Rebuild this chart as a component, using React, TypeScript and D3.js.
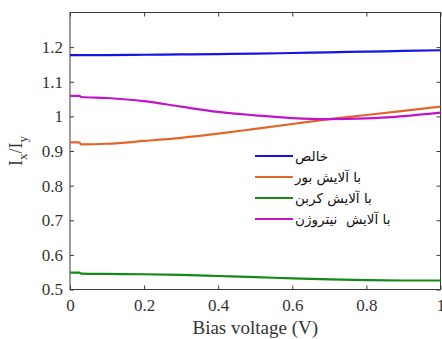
import React, { useEffect, useRef } from "react";
import * as d3 from "d3";

// bias voltage samples (V)
const voltages = [0, 0.025, 0.03, 0.1, 0.2, 0.3, 0.4, 0.5, 0.6, 0.7, 0.8, 0.9, 1.0];

// Ix/Iy ratio for each structure
const pure = [1.177, 1.177, 1.177, 1.177, 1.178, 1.179, 1.18, 1.181, 1.183, 1.185, 1.187, 1.189, 1.191];
const boron = [0.925, 0.925, 0.919, 0.921, 0.929, 0.938, 0.95, 0.964, 0.978, 0.992, 1.004, 1.016, 1.028];
const carbon = [0.549, 0.549, 0.546, 0.545, 0.544, 0.542, 0.539, 0.536, 0.532, 0.529, 0.527, 0.526, 0.526];
const nitrogen = [1.059, 1.059, 1.056, 1.053, 1.044, 1.028, 1.013, 1.003, 0.995, 0.992, 0.994, 1.001, 1.011];

const seriesNames = ["خالص", "با آلایش بور", "با آلایش کربن", "با آلایش  نیتروژن"];
const seriesColors = ["#1414e6", "#e2652a", "#138a13", "#c014c8"];

const xTicks = [0, 0.2, 0.4, 0.6, 0.8, 1];
const yTicks = [0.5, 0.6, 0.7, 0.8, 0.9, 1, 1.1, 1.2];

const App = () => {
  const svgRef = useRef<SVGSVGElement>(null);

  useEffect(() => {
    const svg = d3.select(svgRef.current);
    svg.selectAll("*").remove();

    const left = 70;
    const right = 440.5;
    const top = 12.5;
    const bottom = 289.5;

    const x = d3.scaleLinear().domain([0, 1]).range([left, right]);
    const y = d3.scaleLinear().domain([0.5, 1.3]).range([bottom, top]);

    const axisColor = "#3a3a3a";
    const serif = "'Liberation Serif', 'Times New Roman', serif";

    // box
    svg
      .append("rect")
      .attr("x", left)
      .attr("y", top)
      .attr("width", right - left)
      .attr("height", bottom - top)
      .attr("fill", "none")
      .attr("stroke", axisColor)
      .attr("stroke-width", 1);

    // x ticks (bottom + top, inward)
    const xAxis = svg
      .append("g")
      .attr("transform", `translate(0,${bottom})`)
      .call(d3.axisBottom(x).tickValues(xTicks).tickSizeInner(-4).tickSizeOuter(0).tickPadding(9).tickFormat(d3.format("")));
    xAxis.select(".domain").remove();
    xAxis.selectAll("line").attr("stroke", axisColor);
    xAxis.selectAll("text").attr("font-family", serif).attr("font-size", 17).attr("fill", "#333");

    svg
      .append("g")
      .attr("transform", `translate(0,${top})`)
      .call(d3.axisTop(x).tickValues(xTicks).tickSizeInner(-4).tickSizeOuter(0).tickFormat(() => ""))
      .call((g) => g.select(".domain").remove())
      .selectAll("line")
      .attr("stroke", axisColor);

    // y ticks (left + right, inward)
    const yAxis = svg
      .append("g")
      .attr("transform", `translate(${left},0)`)
      .call(d3.axisLeft(y).tickValues(yTicks).tickSizeInner(-4).tickSizeOuter(0).tickPadding(7).tickFormat(d3.format("")));
    yAxis.select(".domain").remove();
    yAxis.selectAll("line").attr("stroke", axisColor);
    yAxis.selectAll("text").attr("font-family", serif).attr("font-size", 17).attr("fill", "#333");

    svg
      .append("g")
      .attr("transform", `translate(${right},0)`)
      .call(d3.axisRight(y).tickValues(yTicks).tickSizeInner(-4).tickSizeOuter(0).tickFormat(() => ""))
      .call((g) => g.select(".domain").remove())
      .selectAll("line")
      .attr("stroke", axisColor);

    // axis labels
    svg
      .append("text")
      .attr("x", (left + right) / 2)
      .attr("y", 334)
      .attr("text-anchor", "middle")
      .attr("font-family", serif)
      .attr("font-size", 19)
      .attr("fill", "#333")
      .text("Bias voltage (V)");

    const yl = svg
      .append("text")
      .attr("transform", `translate(22,${(top + bottom) / 2}) rotate(-90)`)
      .attr("text-anchor", "middle")
      .attr("font-family", serif)
      .attr("font-size", 18)
      .attr("fill", "#333");
    yl.append("tspan").text("I");
    yl.append("tspan").attr("font-size", 13).attr("dy", 5).text("x");
    yl.append("tspan").attr("dy", -5).text("/I");
    yl.append("tspan").attr("font-size", 13).attr("dy", 5).text("y");

    // lines
    const allSeries = [pure, boron, carbon, nitrogen];
    const line = d3
      .line<number>()
      .x((_, i) => x(voltages[i]))
      .y((d) => y(d))
      .curve(d3.curveMonotoneX);

    allSeries.forEach((s, i) => {
      svg
        .append("path")
        .datum(s)
        .attr("fill", "none")
        .attr("stroke", seriesColors[i])
        .attr("stroke-width", 2.2)
        .attr("d", line);
    });

    // legend
    const legend = svg.append("g").attr("transform", "translate(255,156)");
    seriesNames.forEach((name, i) => {
      const row = legend.append("g").attr("transform", `translate(0,${i * 21})`);
      row
        .append("line")
        .attr("x1", 0)
        .attr("x2", 38)
        .attr("stroke", seriesColors[i])
        .attr("stroke-width", 2.2);
      row
        .append("text")
        .attr("x", 40)
        .attr("y", 5)
        .attr("font-family", "'DejaVu Sans', sans-serif")
        .attr("font-size", 13.5)
        .attr("fill", "#111")
        .style("white-space", "pre")
        .text(name);
    });
  }, []);

  return (
    <svg
      ref={svgRef}
      width={442}
      height={339}
      style={{ position: "absolute", left: 0, top: 0, background: "#fff" }}
    ></svg>
  );
};

export default App;
